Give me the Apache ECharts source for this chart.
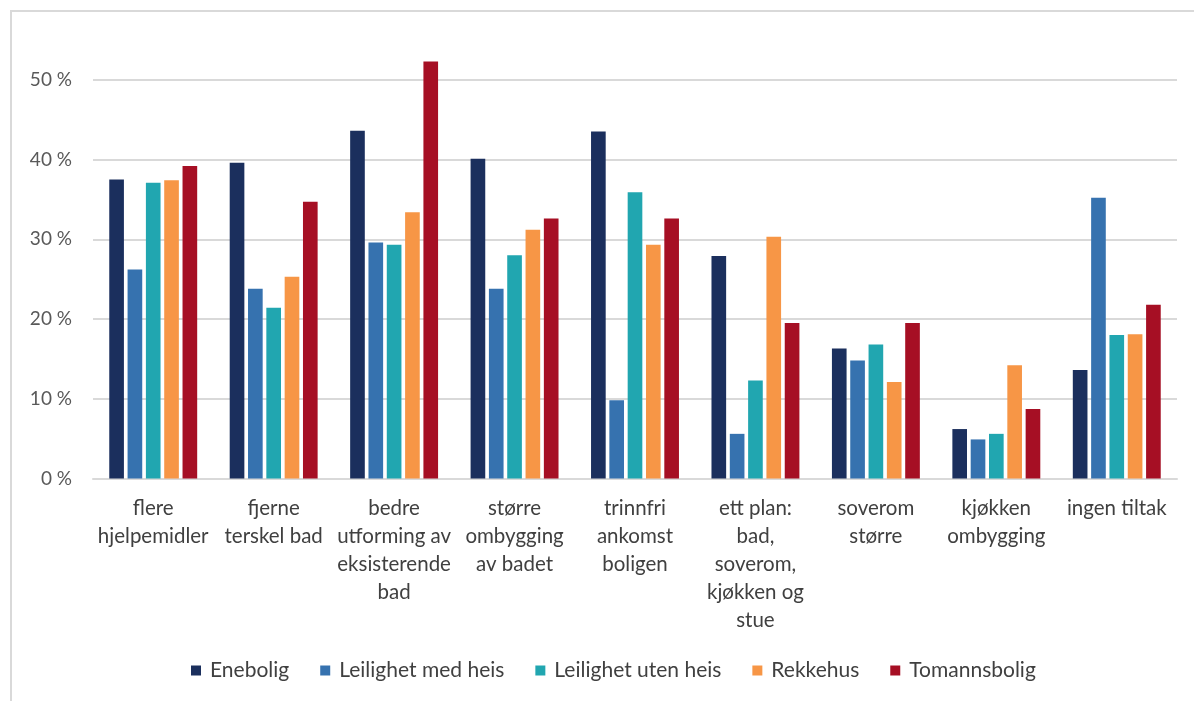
<!DOCTYPE html>
<html>
<head>
<meta charset="utf-8">
<script src="https://cdn.jsdelivr.net/npm/echarts@6/dist/echarts.min.js"></script>
<style>
  html, body { margin: 0; padding: 0; background: #ffffff; }
  #chart { width: 1194px; height: 701px; }
</style>
</head>
<body>
<div id="chart"></div>
<script>
// Tiltak (categories), wrapped as shown under the axis
const categories = [
  'flere\nhjelpemidler',
  'fjerne\nterskel bad',
  'bedre\nutforming av\neksisterende\nbad',
  'større\nombygging\nav badet',
  'trinnfri\nankomst\nboligen',
  'ett plan:\nbad,\nsoverom,\nkjøkken og\nstue',
  'soverom\nstørre',
  'kjøkken\nombygging',
  'ingen tiltak'
];

// Share (%) per housing type
const enebolig          = [37.5, 39.6, 43.6, 40.1, 43.5, 27.9, 16.3, 6.2, 13.6];
const leilighetMedHeis  = [26.2, 23.8, 29.6, 23.8, 9.8, 5.6, 14.8, 4.9, 35.2];
const leilighetUtenHeis = [37.1, 21.4, 29.3, 28.0, 35.9, 12.3, 16.8, 5.6, 18.0];
const rekkehus          = [37.4, 25.3, 33.4, 31.2, 29.3, 30.3, 12.1, 14.2, 18.1];
const tomannsbolig      = [39.2, 34.7, 52.3, 32.6, 32.6, 19.5, 19.5, 8.7, 21.8];

const seriesNames = ['Enebolig', 'Leilighet med heis', 'Leilighet uten heis', 'Rekkehus', 'Tomannsbolig'];
const seriesData = [enebolig, leilighetMedHeis, leilighetUtenHeis, rekkehus, tomannsbolig];
const colors = ['#1B2F5D', '#3672AF', '#21A6B0', '#F79646', '#A60F24'];

const FONT = 'Lato, "Open Sans", sans-serif';

const chart = echarts.init(document.getElementById('chart'), null, { renderer: 'canvas' });

chart.setOption({
  animation: false,
  backgroundColor: '#ffffff',
  color: colors,
  textStyle: { fontFamily: FONT },
  graphic: [{
    type: 'rect',
    shape: { x: 11, y: 11, width: 1300, height: 800 },
    style: { fill: 'none', stroke: '#d9d9d9', lineWidth: 2 },
    silent: true
  }],
  grid: { left: 93, right: 17, top: -1, bottom: 222.5, containLabel: false },
  legend: {
    bottom: 15,
    left: 186,
    icon: 'rect',
    itemWidth: 10,
    itemHeight: 10,
    itemGap: 31,
    textStyle: { color: '#404040', fontSize: 21, fontFamily: FONT, padding: [0, 0, 0, 4] },
    data: seriesNames
  },
  xAxis: {
    type: 'category',
    data: categories,
    axisLine: { show: true, lineStyle: { color: '#d9d9d9', width: 2 } },
    axisTick: { show: false },
    axisLabel: {
      interval: 0,
      margin: 16,
      color: '#404040',
      fontSize: 20.5,
      lineHeight: 28,
      fontFamily: FONT
    }
  },
  yAxis: {
    type: 'value',
    min: 0,
    max: 60,
    interval: 10,
    axisLine: { show: false },
    axisTick: { show: false },
    splitLine: { showMaxLine: false, lineStyle: { color: '#d9d9d9', width: 2 } },
    axisLabel: {
      margin: 21,
      color: '#595959',
      fontSize: 19,
      fontFamily: FONT,
      showMaxLabel: false,
      formatter: v => v + ' %'
    }
  },
  series: seriesNames.map((name, i) => ({
    name,
    type: 'bar',
    data: seriesData[i],
    barGap: '25%',
    barCategoryGap: '27%',
    itemStyle: { color: colors[i] }
  }))
});
</script>
</body>
</html>
